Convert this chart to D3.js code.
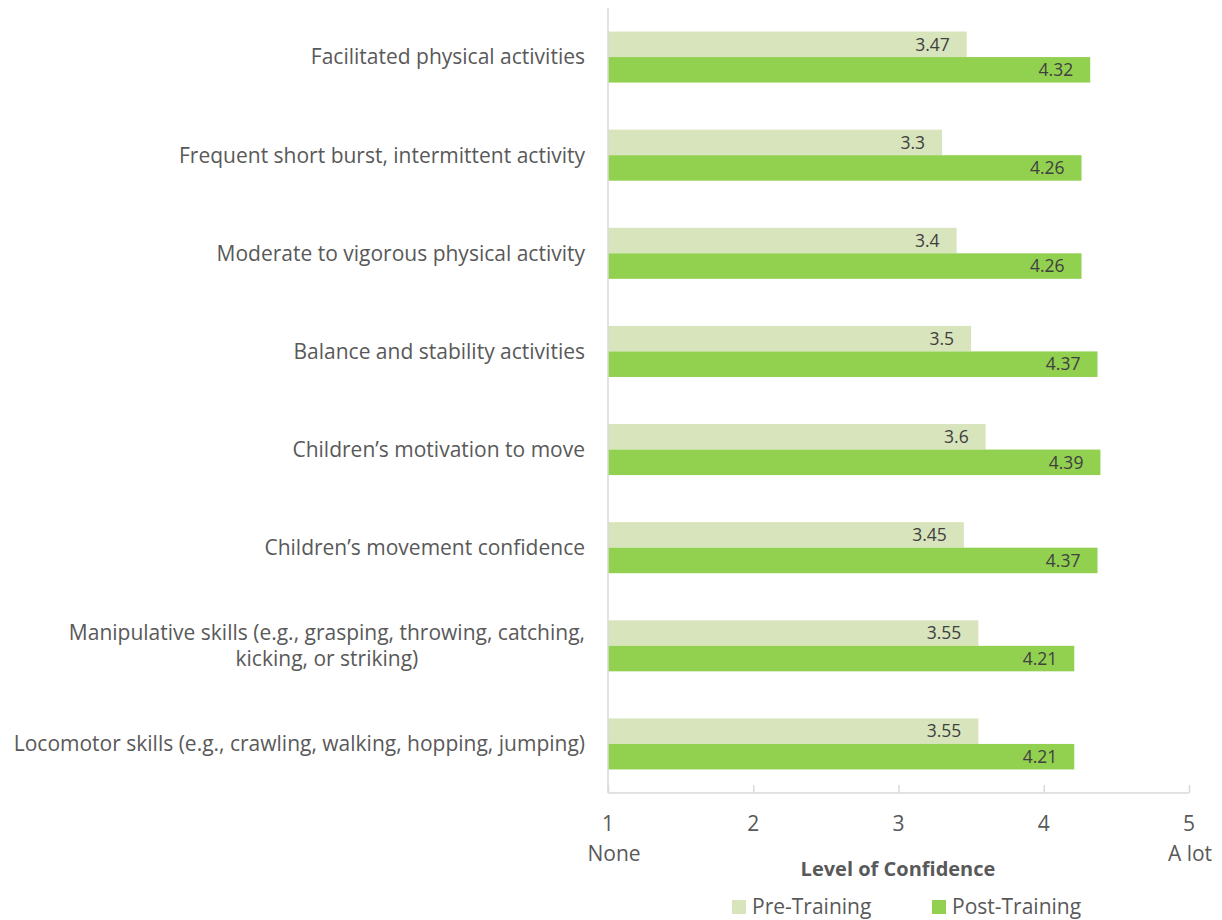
<!DOCTYPE html>
<html>
<head>
<meta charset="utf-8">
<script src="https://cdn.jsdelivr.net/npm/d3@7"></script>
<style>
  body { margin: 0; background: #fff; }
  text { font-family: "Open Sans", sans-serif; fill: #595959; }
</style>
</head>
<body>
<svg id="chart" width="1222" height="920"></svg>
<script>
// data, top to bottom
const categories = [
  ['Facilitated physical activities'],
  ['Frequent short burst, intermittent activity'],
  ['Moderate to vigorous physical activity'],
  ['Balance and stability activities'],
  ['Children\u2019s motivation to move'],
  ['Children\u2019s movement confidence'],
  ['Manipulative skills (e.g., grasping, throwing, catching,', 'kicking, or striking)'],
  ['Locomotor skills (e.g., crawling, walking, hopping, jumping)'],
];
const preTraining = [3.47, 3.3, 3.4, 3.5, 3.6, 3.45, 3.55, 3.55];
const postTraining = [4.32, 4.26, 4.26, 4.37, 4.39, 4.37, 4.21, 4.21];
const seriesNames = ['Pre-Training', 'Post-Training'];
const tickValues = [1, 2, 3, 4, 5];
const endLabels = ['None', 'A lot'];

const colors = ['#d8e4bc', '#92d050'];
const svg = d3.select('#chart');

const plotLeft = 608;
const plotRight = 1189;
const plotTop = 8;
const plotBottom = 793;
const fs = 21;

const x = d3.scaleLinear().domain([1, 5]).range([plotLeft, plotRight]);
const y = d3.scaleBand()
  .domain(d3.range(categories.length))
  .range([plotTop, plotBottom])
  .paddingInner(0.48)
  .paddingOuter(0.24);
const inner = d3.scaleBand().domain([0, 1]).range([0, y.bandwidth()]);

const rows = categories.map((c, i) => ({ i, label: c, values: [preTraining[i], postTraining[i]] }));

// bars
const group = svg.selectAll('.row')
  .data(rows)
  .enter()
  .append('g')
  .attr('class', 'row')
  .attr('transform', (d) => `translate(0,${y(d.i)})`);

group.selectAll('rect')
  .data((d) => d.values.map((v, s) => ({ v, s })))
  .enter()
  .append('rect')
  .attr('x', x(1))
  .attr('y', (d) => inner(d.s))
  .attr('width', (d) => x(d.v) - x(1))
  .attr('height', inner.bandwidth())
  .attr('fill', (d) => colors[d.s]);

group.selectAll('.val')
  .data((d) => d.values.map((v, s) => ({ v, s })))
  .enter()
  .append('text')
  .attr('class', 'val')
  .attr('x', (d) => x(d.v) - 17)
  .attr('y', (d) => inner(d.s) + inner.bandwidth() / 2)
  .attr('dy', '0.36em')
  .attr('text-anchor', 'end')
  .attr('font-size', 17.5)
  .style('fill', '#404040')
  .text((d) => d.v);

// category labels
const lab = svg.selectAll('.cat')
  .data(rows)
  .enter()
  .append('text')
  .attr('class', 'cat')
  .attr('text-anchor', 'end')
  .attr('font-size', fs)
  .attr('x', 585)
  .attr('y', (d) => y(d.i) + y.bandwidth() / 2);

lab.each(function (d) {
  const t = d3.select(this);
  const first = t.append('tspan')
    .attr('x', 585)
    .attr('dy', `${0.35 - (d.label.length - 1) * 0.62}em`)
    .text(d.label[0]);
  if (d.label.length > 1) {
    // second line is centred under the first one
    const w = first.node().getComputedTextLength();
    t.append('tspan')
      .attr('x', 585 - w / 2)
      .attr('text-anchor', 'middle')
      .attr('dy', '1.24em')
      .text(d.label[1]);
  }
});

// axes lines
svg.append('line')
  .attr('x1', plotLeft).attr('x2', plotLeft)
  .attr('y1', plotTop).attr('y2', plotBottom)
  .attr('stroke', '#d9d9d9').attr('stroke-width', 1.5);

const xAxis = svg.append('g')
  .attr('transform', `translate(0,${plotBottom})`)
  .call(d3.axisTop(x).tickValues(tickValues).tickSize(8).tickFormat(''));
xAxis.select('.domain').attr('stroke', '#d9d9d9').attr('stroke-width', 1.5)
  .attr('d', `M${plotLeft},0H${plotRight}`);
xAxis.selectAll('.tick line').attr('stroke', '#d9d9d9').attr('stroke-width', 1.5);

svg.selectAll('.tickl')
  .data(tickValues)
  .enter()
  .append('text')
  .attr('class', 'tickl')
  .attr('x', (d) => x(d))
  .attr('y', 824)
  .attr('dy', '0.35em')
  .attr('text-anchor', 'middle')
  .attr('font-size', fs)
  .text((d) => d);

svg.selectAll('.endl')
  .data(endLabels)
  .enter()
  .append('text')
  .attr('class', 'endl')
  .attr('x', (d, i) => x(tickValues[i * 4]) + (i === 0 ? 6 : 1))
  .attr('y', 854)
  .attr('dy', '0.35em')
  .attr('text-anchor', 'middle')
  .attr('font-size', fs)
  .text((d) => d);

svg.append('text')
  .attr('x', 898)
  .attr('y', 869)
  .attr('dy', '0.35em')
  .attr('text-anchor', 'middle')
  .attr('font-size', 20)
  .attr('font-weight', 'bold')
  .text('Level of Confidence');

// legend
const legendX = [732, 932];
const leg = svg.selectAll('.leg')
  .data(seriesNames)
  .enter()
  .append('g')
  .attr('class', 'leg')
  .attr('transform', (d, i) => `translate(${legendX[i]},907)`);
leg.append('rect').attr('width', 14).attr('height', 14).attr('y', -7)
  .attr('fill', (d, i) => colors[i]);
leg.append('text').attr('x', 20).attr('dy', '0.35em').attr('font-size', fs)
  .text((d) => d);
</script>
</body>
</html>
